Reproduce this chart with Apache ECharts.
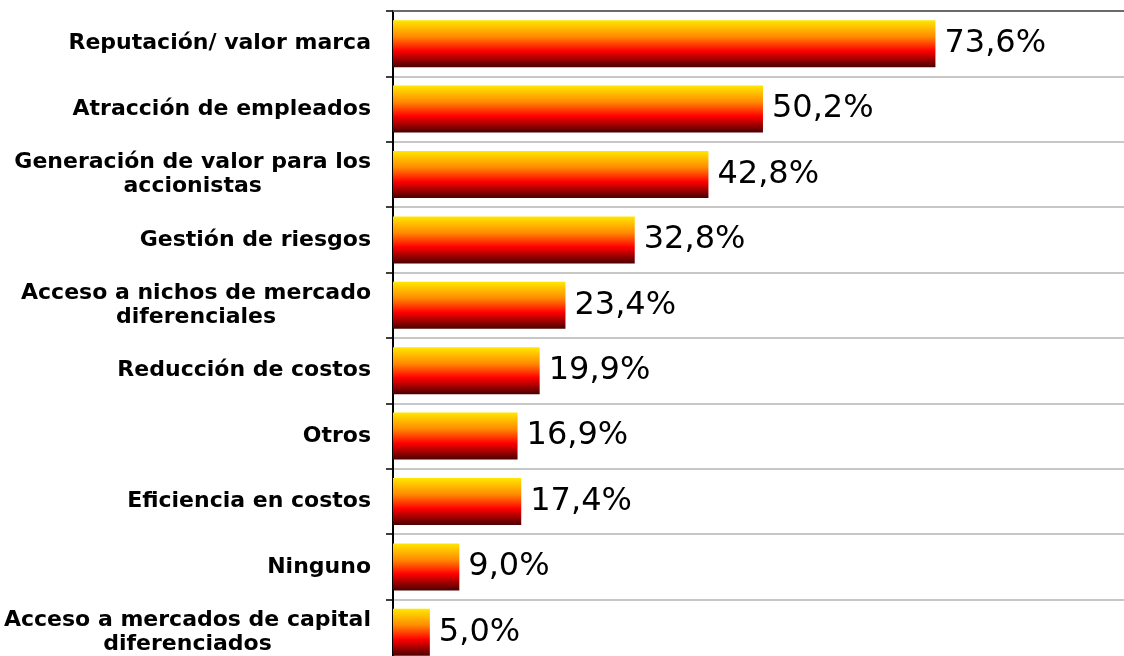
<!DOCTYPE html>
<html>
<head>
<meta charset="utf-8">
<script src="https://cdn.jsdelivr.net/npm/echarts@6/dist/echarts.min.js"></script>
<style>
  html, body { margin: 0; padding: 0; background: #fff; }
  #main { width: 1124px; height: 656px; }
</style>
</head>
<body>
<div id="main"></div>
<script>
const categories = [
  'Reputación/ valor marca',
  'Atracción de empleados',
  'Generación de valor para los\naccionistas',
  'Gestión de riesgos',
  'Acceso a nichos de mercado\ndiferenciales',
  'Reducción de costos',
  'Otros',
  'Eficiencia en costos',
  'Ninguno',
  'Acceso a mercados de capital\ndiferenciados'
];
const values = [73.6, 50.2, 42.8, 32.8, 23.4, 19.9, 16.9, 17.4, 9.0, 5.0];

const chart = echarts.init(document.getElementById('main'));

const barGradient = new echarts.graphic.LinearGradient(0, 0, 0, 1, [
  { offset: 0, color: '#FFE800' },
  { offset: 0.35, color: '#FF8A00' },
  { offset: 0.65, color: '#FF0000' },
  { offset: 1, color: '#4A0000' }
]);

const option = {
  animation: false,
  grid: {
    left: 393,
    right: -6,
    top: 11,
    bottom: -9,
    outerBoundsMode: 'none'
  },
  xAxis: {
    type: 'value',
    position: 'top',
    min: 0,
    max: 100,
    axisLine: {
      show: true,
      lineStyle: { color: '#6a6a6a', width: 2 }
    },
    axisTick: { show: false },
    axisLabel: { show: false },
    splitLine: { show: false }
  },
  yAxis: {
    type: 'category',
    inverse: true,
    data: categories,
    axisLine: {
      lineStyle: { color: '#000', width: 2 }
    },
    axisTick: {
      show: true,
      length: 7,
      lineStyle: { color: '#000', width: 1.5 }
    },
    splitLine: {
      show: true,
      lineStyle: { color: '#b4b4b4', width: 1.5 }
    },
    axisLabel: {
      margin: 22,
      align: 'right',
      fontFamily: 'DejaVu Sans',
      fontWeight: 'bold',
      fontSize: 22,
      lineHeight: 24,
      color: '#000',
      formatter: function (v) {
        return v.split('\n').map(function (s) { return '{c|' + s + '}'; }).join('\n');
      },
      rich: {
        c: {
          align: 'center',
          fontFamily: 'DejaVu Sans',
          fontWeight: 'bold',
          fontSize: 22,
          lineHeight: 24,
          color: '#000'
        }
      }
    }
  },
  series: [{
    type: 'bar',
    data: values,
    barWidth: 47,
    itemStyle: { color: barGradient },
    label: {
      show: true,
      position: 'right',
      distance: 9,
      fontFamily: 'DejaVu Sans',
      fontSize: 32,
      color: '#000',
      formatter: function (p) {
        return p.value.toFixed(1).replace('.', ',') + '%';
      }
    }
  }]
};

chart.setOption(option);
</script>
</body>
</html>
